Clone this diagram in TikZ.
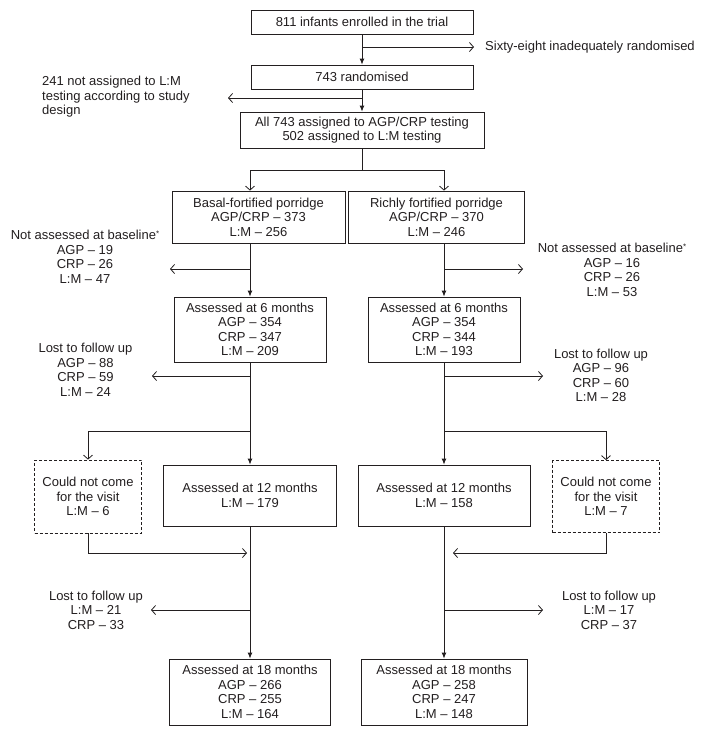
\documentclass[tikz,border=0pt]{standalone}
\usepackage{fontspec}
\setmainfont{Liberation Sans}
\usetikzlibrary{arrows.meta}
\definecolor{ink}{HTML}{231F20}
\newcommand{\myast}{\raisebox{3.5pt}{\fontsize{8}{8}\selectfont *}}
\begin{document}
\begin{tikzpicture}[x=1pt,y=-1pt,
  font=\fontsize{13}{14.5}\selectfont,
  box/.style={draw=ink, line width=0.8pt, inner sep=0pt, align=center, text=ink},
  dbox/.style={box, dash pattern=on 3pt off 2pt},
  lbl/.style={inner sep=0pt, align=center, text=ink},
  fa/.style={draw=ink, line width=0.9pt, -{Latex[length=6pt,width=5pt]}},
  oa/.style={draw=ink, line width=0.8pt, -{Straight Barb[length=4pt,width=9pt]}},
  ln/.style={draw=ink, line width=0.9pt}]
\useasboundingbox (0,0) rectangle (712,731);
\fill[white] (0,0) rectangle (712,731);

% column coordinates
\coordinate (cL) at (250,0);
\coordinate (cR) at (444,0);

% main boxes
\node[box, minimum width=222pt, minimum height=24pt] (b1) at (362,22) {811 infants enrolled in the trial};
\node[box, minimum width=222pt, minimum height=24pt] (b2) at (362,77) {743 randomised};
\node[box, minimum width=244pt, minimum height=36pt] (b3) at (362,130) {All 743 assigned to AGP/CRP testing\\502 assigned to L:M testing};
\node[box, minimum width=173pt, minimum height=52pt] (pl) at (258.5,217) {Basal-fortified porridge\\AGP/CRP -- 373\\L:M -- 256};
\node[box, minimum width=176pt, minimum height=52pt] (pr) at (436.5,217) {Richly fortified porridge\\AGP/CRP -- 370\\L:M -- 246};
\node[box, minimum width=152pt, minimum height=65pt] (sl) at (250,329.5) {Assessed at 6 months\\AGP -- 354\\CRP -- 347\\L:M -- 209};
\node[box, minimum width=152pt, minimum height=65pt] (sr) at (444,329.5) {Assessed at 6 months\\AGP -- 354\\CRP -- 344\\L:M -- 193};
\node[box, minimum width=173pt, minimum height=61pt] (tl) at (250,495.5) {Assessed at 12 months\\L:M -- 179};
\node[box, minimum width=172pt, minimum height=61pt] (tr) at (444,495.5) {Assessed at 12 months\\L:M -- 158};
\node[dbox, minimum width=107pt, minimum height=73pt] (dl) at (88,496.5) {Could not come\\for the visit\\L:M -- 6};
\node[dbox, minimum width=107pt, minimum height=72pt] (dr) at (606,496.5) {Could not come\\for the visit\\L:M -- 7};
\node[box, minimum width=161pt, minimum height=66pt] (el) at (250,692) {Assessed at 18 months\\AGP -- 266\\CRP -- 255\\L:M -- 164};
\node[box, minimum width=166pt, minimum height=66pt] (er) at (444,692) {Assessed at 18 months\\AGP -- 258\\CRP -- 247\\L:M -- 148};

% side texts
\node[lbl, anchor=west] (t68) at (485,47) {Sixty-eight inadequately randomised};
\node[lbl, anchor=west, align=left] (t241) at (42,97) {241 not assigned to L:M\\testing according to study\\design};
\node[lbl] (nabL) at (85,257) {Not assessed at baseline\myast\\AGP -- 19\\CRP -- 26\\L:M -- 47};
\node[lbl] (nabR) at (612,270) {Not assessed at baseline\myast\\AGP -- 16\\CRP -- 26\\L:M -- 53};
\node[lbl] (lostL) at (85.5,370) {Lost to follow up\\AGP -- 88\\CRP -- 59\\L:M -- 24};
\node[lbl] (lostR) at (601,375.5) {Lost to follow up\\AGP -- 96\\CRP -- 60\\L:M -- 28};
\node[lbl] (lostL2) at (96,610) {Lost to follow up\\L:M -- 21\\CRP -- 33};
\node[lbl] (lostR2) at (609,610) {Lost to follow up\\L:M -- 17\\CRP -- 37};

% junctions and arrow tips
\coordinate (j1) at (362,47);  \coordinate (a1) at (474,47);
\coordinate (j2) at (362,98);  \coordinate (a2) at (228,98);
\coordinate (sp) at (362,170);
\coordinate (j3) at (250,269); \coordinate (a3) at (170,269);
\coordinate (j4) at (444,269); \coordinate (a4) at (523,269);
\coordinate (j5) at (250,376); \coordinate (a5) at (152,376);
\coordinate (j6) at (444,376); \coordinate (a6) at (543,376);
\coordinate (j7) at (250,431);
\coordinate (j8) at (444,431);
\coordinate (a9) at (247,553);
\coordinate (a10) at (453,553);
\coordinate (j11) at (250,610); \coordinate (a11) at (151,610);
\coordinate (j12) at (444,610); \coordinate (a12) at (543,610);

% connectors
\draw[fa] (b1.south) -- (b2.north);
\draw[oa] (j1) -- (a1);
\draw[fa] (b2.south) -- (b3.north);
\draw[oa] (j2) -- (a2);
\draw[ln] (b3.south) -- (sp);
\draw[oa] (sp) -| (cL |- pl.north);
\draw[oa] (sp) -| (cR |- pr.north);

\draw[fa] (cL |- pl.south) -- (sl.north);
\draw[oa] (j3) -- (a3);
\draw[fa] (cR |- pr.south) -- (sr.north);
\draw[oa] (j4) -- (a4);

\draw[fa] (sl.south) -- (tl.north);
\draw[oa] (j5) -- (a5);
\draw[fa] (sr.south) -- (tr.north);
\draw[oa] (j6) -- (a6);
\draw[oa] (j7) -| (dl.north);
\draw[oa] (j8) -| (dr.north);
\draw[oa] (dl.south) |- (a9);
\draw[oa] (dr.south) |- (a10);

\draw[fa] (tl.south) -- (el.north);
\draw[oa] (j11) -- (a11);
\draw[fa] (tr.south) -- (er.north);
\draw[oa] (j12) -- (a12);
\end{tikzpicture}
\end{document}
